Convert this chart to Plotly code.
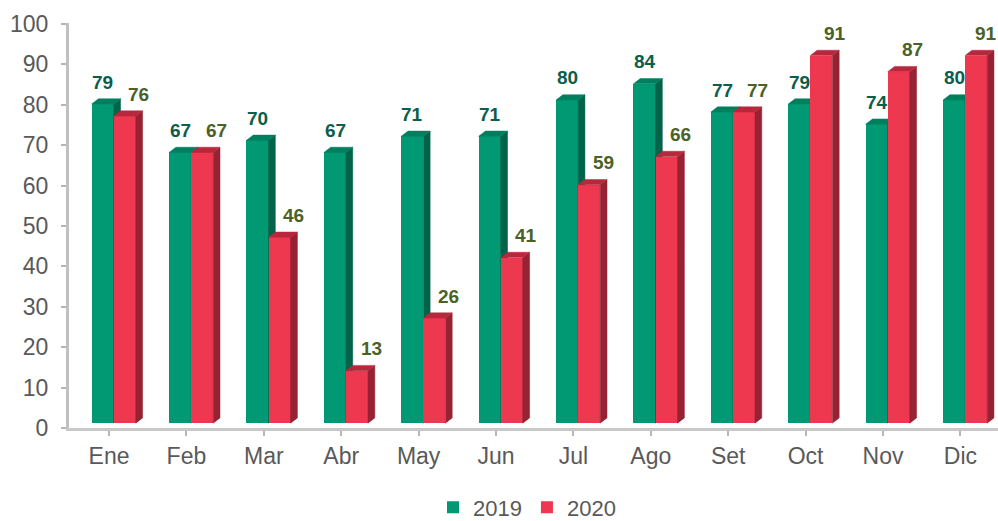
import plotly.graph_objects as go

# ---- data ----
months = ["Ene", "Feb", "Mar", "Abr", "May", "Jun", "Jul", "Ago", "Set", "Oct", "Nov", "Dic"]
v2019 = [79, 67, 70, 67, 71, 71, 80, 84, 77, 79, 74, 80]
v2020 = [76, 67, 46, 13, 26, 41, 59, 66, 77, 91, 87, 91]
y_ticks = [0, 10, 20, 30, 40, 50, 60, 70, 80, 90, 100]

# ---- style ----
FONT = "Liberation Sans, Arial, sans-serif"
BASE = 1.2      # front-face floor offset (3D look)
W = 0.285       # bar width (category units)
DX = 0.088      # 3D depth, x (category units)
DY = 1.3        # 3D depth, y (value units)
XR = [-0.517, 11.486]
YR = [0, 100.25]

series = [
    dict(name="2019", vals=v2019, off=-0.224, front="#009973", top="#007F5F", side="#00634A",
         lab_dx=-0.08, lab_col="#0B5E4B", xa="x", ya="y"),
    dict(name="2020", vals=v2020, off=0.061, front="#EE3850", top="#B8283C", side="#962233",
         lab_dx=0.385, lab_col="#4A6127", xa="x2", ya="y2"),
]

xs = list(range(len(months)))
fig = go.Figure()
annotations = []

for s in series:
    fig.add_trace(go.Bar(
        x=xs, y=s["vals"], base=BASE, width=W, offset=s["off"], name=s["name"],
        marker=dict(color=s["front"], line=dict(width=0)),
        xaxis=s["xa"], yaxis=s["ya"], hoverinfo="skip", showlegend=True,
    ))
    tx, ty, sx, sy = [], [], [], []
    for i, v in zip(xs, s["vals"]):
        xl = i + s["off"]
        xr = xl + W
        t = BASE + v
        tx += [xl, xr, xr + DX, xl + DX, xl, None]
        ty += [t, t, t + DY, t + DY, t, None]
        sx += [xr, xr + DX, xr + DX, xr, xr, None]
        sy += [BASE, BASE + DY, t + DY, t, BASE, None]
        annotations.append(dict(
            x=min(i + s["lab_dx"], XR[1] - 0.15), y=t, xref=s["xa"], yref=s["ya"], text=str(v),
            showarrow=False, yshift=22, yanchor="middle", xanchor="center",
            font=dict(family=FONT, size=19, color=s["lab_col"], weight="bold"),
        ))
    fig.add_trace(go.Scatter(x=sx, y=sy, mode="lines", fill="toself", fillcolor=s["side"],
                             line=dict(color=s["side"], width=0.5), showlegend=False,
                             hoverinfo="skip", xaxis=s["xa"], yaxis=s["ya"]))
    fig.add_trace(go.Scatter(x=tx, y=ty, mode="lines", fill="toself", fillcolor=s["top"],
                             line=dict(color=s["top"], width=0.5), showlegend=False,
                             hoverinfo="skip", xaxis=s["xa"], yaxis=s["ya"]))

fig.update_layout(
    width=998, height=521,
    margin=dict(l=69, r=0, t=23, b=93),
    paper_bgcolor="white", plot_bgcolor="white",
    font=dict(family=FONT, size=23, color="#595959"),
    annotations=annotations,
    bargap=0,
    xaxis=dict(range=XR, tickmode="array", tickvals=xs, ticktext=months,
               showgrid=False, zeroline=False, showline=True, linecolor="#c8c8c8", linewidth=3,
               ticks="outside", ticklen=5, tickwidth=1.5, tickcolor="#b5b5b5",
               ticklabelstandoff=0, tickfont=dict(size=23, color="#595959")),
    yaxis=dict(range=YR, tickmode="array", tickvals=y_ticks,
               showgrid=False, zeroline=False, showline=True, linecolor="#c0c0c0", linewidth=3,
               ticks="outside", ticklen=5, tickwidth=1.5, tickcolor="#b5b5b5",
               ticklabelstandoff=8, tickfont=dict(size=23, color="#595959")),
    xaxis2=dict(range=XR, overlaying="x", visible=False),
    yaxis2=dict(range=YR, overlaying="y", visible=False),
    legend=dict(orientation="h", x=0.493, xanchor="center", yref="container", y=0.026,
                yanchor="middle", font=dict(size=22, color="#595959"), itemwidth=30,
                bgcolor="rgba(0,0,0,0)"),
    showlegend=True,
)

fig.write_html("out.html", config={"displayModeBar": False},
               post_script="document.body.style.margin='0';document.body.style.overflow='hidden';")
